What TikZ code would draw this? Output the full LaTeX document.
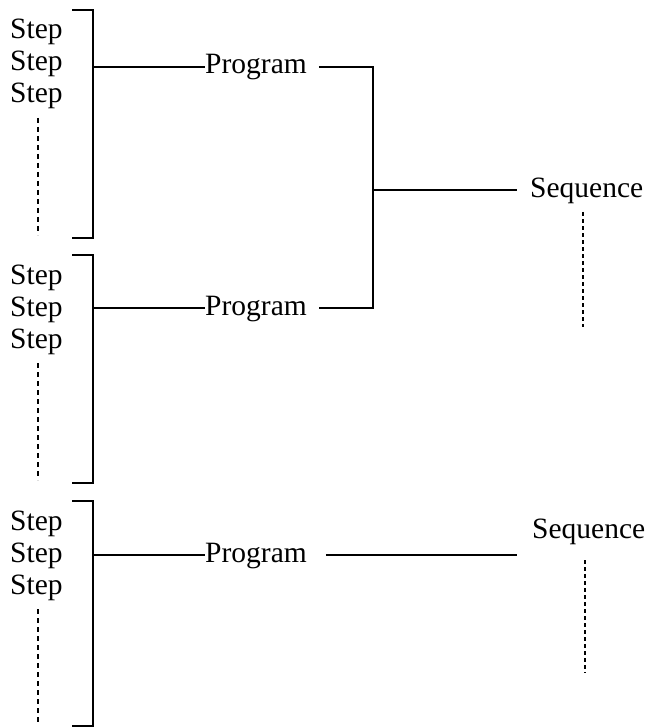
\documentclass[tikz,border=0pt]{standalone}
\usepackage{fontspec}
\setmainfont{Liberation Serif}
\begin{document}
\begin{tikzpicture}[x=1pt,y=-1pt,
  lbl/.style={font=\fontsize{29.5}{29.5}\selectfont, inner sep=0pt},
  conn/.style={line width=1.3pt},
  brk/.style={line width=1.5pt},
  stepdash/.style={line width=2.6pt, dash pattern=on 5pt off 4pt},
  seqdash/.style={line width=2.8pt, dash pattern=on 4pt off 3pt}]
\useasboundingbox (0,0) rectangle (645,727);
\foreach \g/\ty/\by/\ly in {1/10/238/67, 2/255/483/308, 3/501/726/555} {
  \node[lbl, anchor=base west] (s\g a) at (10,\ty+29) {Step};
  \node[lbl, anchor=base west] (s\g b) at (10,\ty+61) {Step};
  \node[lbl, anchor=base west] (s\g c) at (10,\ty+93) {Step};
  \coordinate (bt\g) at (72,\ty);
  \coordinate (btr\g) at (93,\ty);
  \coordinate (bbr\g) at (93,\by);
  \coordinate (bb\g) at (72,\by);
  \draw[brk] (bt\g) -- (btr\g) -- (bbr\g) -- (bb\g);
  \coordinate (da\g) at (38,\ty+108);
  \coordinate (db\g) at (38,\by-3);
  \draw[stepdash] (da\g) -- (db\g);
  \coordinate (j\g) at (93,\ly);
  \node[lbl, anchor=base west] (p\g) at (205,\ly+7) {Program};
  \draw[conn] (j\g) -- (j\g -| p\g.west);
}
% upper join
\coordinate (v1) at (373,67);
\coordinate (v2) at (373,308);
\coordinate (vm) at (373,190);
\coordinate (e1) at (517,190);
\draw[conn] ([xshift=12pt]v1 -| p1.east) -- (v1) -- (v2) -- ([xshift=12pt]v2 -| p2.east);
\draw[conn] (vm) -- (e1);
\node[lbl, anchor=base west] (q1) at (530,198) {Sequence};
\coordinate (qa1) at (583,212);
\coordinate (qb1) at (583,327);
\draw[seqdash] (qa1) -- (qb1);
% lower
\coordinate (e3) at (517,555);
\draw[conn] ([xshift=19pt]e3 -| p3.east) -- (e3);
\node[lbl, anchor=base west] (q2) at (532,538) {Sequence};
\coordinate (qa2) at (585,560);
\coordinate (qb2) at (585,673);
\draw[seqdash] (qa2) -- (qb2);
\end{tikzpicture}
\end{document}
